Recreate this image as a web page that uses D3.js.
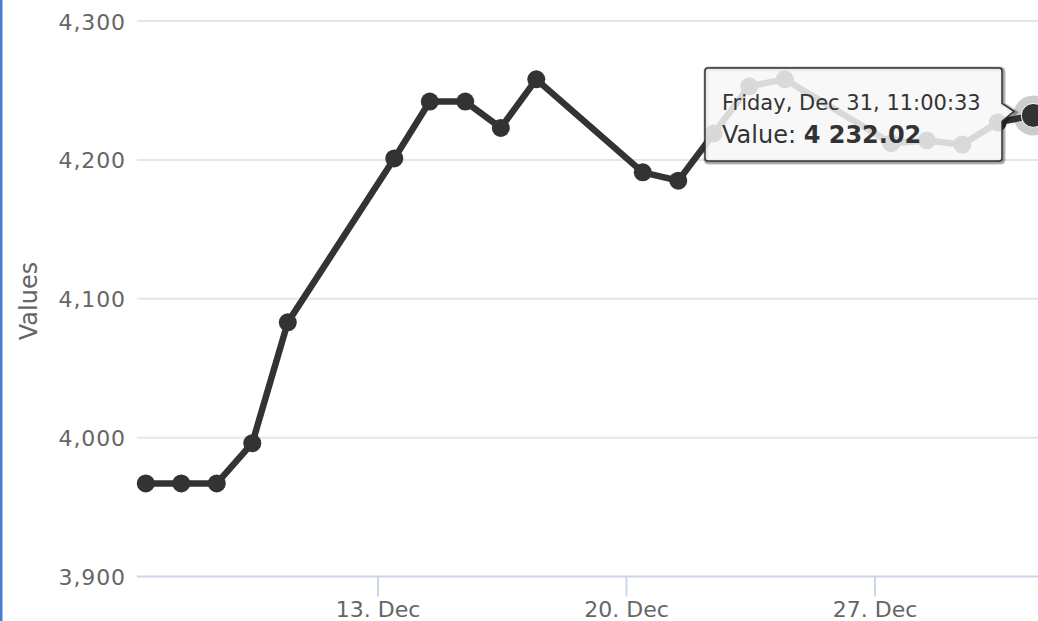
<!DOCTYPE html>
<html>
<head>
<meta charset="utf-8">
<script src="https://cdn.jsdelivr.net/npm/d3@7"></script>
<style>
  html, body { margin: 0; padding: 0; background: #fff; }
  svg { display: block; font-family: "DejaVu Sans", Verdana, sans-serif; }
</style>
</head>
<body>
<svg></svg>
<script>
'use strict';

const width = 1038, height = 621;

// trading days, Dec 2021 (each sample taken at 11:00:33)
let days = [6, 7, 8, 9, 10, 13, 14, 15, 16, 17, 20, 21, 22, 23, 24, 27, 28, 29, 30, 31];
let values = [3967, 3967, 3967, 3996, 4083, 4201, 4242, 4242, 4223, 4258,
              4191, 4185, 4219, 4253, 4258, 4212, 4214, 4211, 4227, 4232.02];
let yTicks = [3900, 4000, 4100, 4200, 4300];
let xTicks = [13, 20, 27];

let data = days.map((d, i) => ({date: new Date(2021, 11, d, 11, 0, 33), value: values[i]}));

let svg = d3.select("svg")
    .attr("width", width)
    .attr("height", height)
    .attr("viewBox", [0, 0, width, height]);

let x = d3.scaleTime()
    .domain([new Date(2021, 11, 13), new Date(2021, 11, 27)])
    .range([378, 875]);

let y = d3.scaleLinear()
    .domain([3900, 4300])
    .range([576.5, 21]);

const plotLeft = 137;

// gridlines
svg.append("g")
  .selectAll("line")
  .data(yTicks.slice(1))
  .join("line")
    .attr("x1", plotLeft)
    .attr("x2", width)
    .attr("y1", d => y(d))
    .attr("y2", d => y(d))
    .attr("stroke", "#e6e6e6")
    .attr("stroke-width", 2);

// y labels
svg.append("g")
  .selectAll("text")
  .data(yTicks)
  .join("text")
    .attr("x", 126)
    .attr("y", d => y(d) + 8.5)
    .attr("text-anchor", "end")
    .attr("font-size", 22)
    .attr("letter-spacing", 0.9)
    .attr("fill", "#666")
    .text(d => d3.format(",")(d));

svg.append("text")
    .attr("transform", "translate(37,301) rotate(-90)")
    .attr("text-anchor", "middle")
    .attr("font-size", 24)
    .attr("fill", "#666")
    .text("Values");

// x axis
let xAxis = svg.append("g");
xAxis.append("line")
    .attr("x1", plotLeft)
    .attr("x2", width)
    .attr("y1", y(3900))
    .attr("y2", y(3900))
    .attr("stroke", "#ccd6eb")
    .attr("stroke-width", 2);

let xt = xAxis.selectAll("g.tick")
  .data(xTicks.map(d => new Date(2021, 11, d)))
  .join("g")
    .attr("class", "tick")
    .attr("transform", d => `translate(${x(d)},0)`);

xt.append("line")
    .attr("y1", y(3900))
    .attr("y2", y(3900) + 20)
    .attr("stroke", "#ccd6eb")
    .attr("stroke-width", 2);

xt.append("text")
    .attr("y", 617)
    .attr("text-anchor", "middle")
    .attr("font-size", 22)
    .attr("fill", "#666")
    .text(d => d3.timeFormat("%-d. %b")(d));

// series
let line = d3.line()
    .x(d => x(d.date))
    .y(d => y(d.value));

svg.append("path")
    .datum(data)
    .attr("fill", "none")
    .attr("stroke", "#333")
    .attr("stroke-width", 6.5)
    .attr("stroke-linejoin", "round")
    .attr("d", line);

svg.append("g")
  .selectAll("circle")
  .data(data.slice(0, -1))
  .join("circle")
    .attr("cx", d => x(d.date))
    .attr("cy", d => y(d.value))
    .attr("r", 9)
    .attr("fill", "#333");

// hovered point
let last = data[data.length - 1];
svg.append("circle")
    .attr("cx", x(last.date))
    .attr("cy", y(last.value))
    .attr("r", 20)
    .attr("fill", "#333")
    .attr("fill-opacity", 0.25);
svg.append("circle")
    .attr("cx", x(last.date))
    .attr("cy", y(last.value))
    .attr("r", 12)
    .attr("fill", "#333")
    .attr("stroke", "#fff")
    .attr("stroke-width", 1);

// tooltip
let tx = 705, ty = 68, tw = 297, th = 93;
let tipY = y(last.value) - ty;
let tipPath = `M${3},0 H${tw - 3} Q${tw},0 ${tw},3 V${tipY - 12} L${tw + 12},${tipY - 4} L${tw},${tipY + 6} V${th - 3} Q${tw},${th} ${tw - 3},${th} H3 Q0,${th} 0,${th - 3} V3 Q0,0 3,0 Z`;

let tip = svg.append("g").attr("transform", `translate(${tx},${ty})`);
[5, 3, 1].forEach(w => {
  tip.append("path")
      .attr("d", tipPath)
      .attr("transform", "translate(1,1)")
      .attr("fill", "none")
      .attr("stroke", "#000")
      .attr("stroke-opacity", 0.05 * w)
      .attr("stroke-width", w);
});
tip.append("path")
    .attr("d", tipPath)
    .attr("fill", "rgba(247,247,247,0.85)")
    .attr("stroke", "#333")
    .attr("stroke-width", 1.5);

tip.append("text")
    .attr("x", 17)
    .attr("y", 42)
    .attr("font-size", 21)
    .attr("fill", "#333")
    .text(d3.timeFormat("%A, %b %-d, %H:%M:%S")(last.date));

let body = tip.append("text")
    .attr("x", 17)
    .attr("y", 75)
    .attr("font-size", 24)
    .attr("fill", "#333");
body.append("tspan").text("Value: ");
body.append("tspan")
    .attr("font-weight", "bold")
    .text(d3.format(",.2f")(last.value).replace(",", " "));

// left frame line
svg.append("rect")
    .attr("x", 0)
    .attr("y", 0)
    .attr("width", 2.5)
    .attr("height", height)
    .attr("fill", "#4a7bd6");
</script>
</body>
</html>
